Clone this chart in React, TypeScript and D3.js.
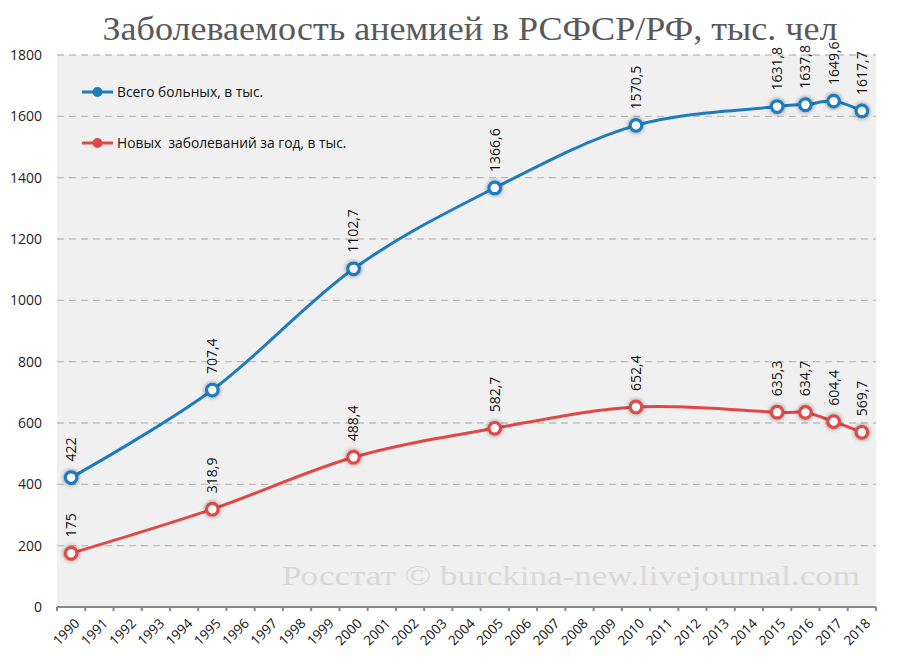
import React from "react";
import * as d3 from "d3";

const years: string[] = d3.range(1990, 2019).map(String);
const dataYears: string[] = ["1990", "1995", "2000", "2005", "2010", "2015", "2016", "2017", "2018"];
const totalValues: number[] = [422, 707.4, 1102.7, 1366.6, 1570.5, 1631.8, 1637.8, 1649.6, 1617.7];
const newValues: number[] = [175, 318.9, 488.4, 582.7, 652.4, 635.3, 634.7, 604.4, 569.7];
const yTicks: number[] = [0, 200, 400, 600, 800, 1000, 1200, 1400, 1600, 1800];
const seriesNames: string[] = ["Всего больных, в тыс.", "Новых  заболеваний за год, в тыс."];
const title = "Заболеваемость анемией в РСФСР/РФ, тыс. чел";
const watermark = "Росстат © burckina-new.livejournal.com";

const W = 900, H = 667;
const left = 57, right = 876, top = 55, bottom = 607;

const fmt = (v: number) => String(v).replace(".", ",");

export default function App() {
  const x = d3.scaleBand<string>().domain(years).range([left, right]);
  const y = d3.scaleLinear().domain([0, 1800]).range([bottom, top]);
  const cx = (yr: string) => (x(yr) as number) + x.bandwidth() / 2;
  const line = d3
    .line<[string, number]>()
    .x((d) => cx(d[0]))
    .y((d) => y(d[1]))
    .curve(d3.curveCatmullRom.alpha(0));

  const series = [
    { name: seriesNames[0], values: totalValues, color: "#1f7bc0" },
    { name: seriesNames[1], values: newValues, color: "#e04848" },
  ];
  const font = "'Open Sans', 'Liberation Sans', sans-serif";

  return (
    <svg width={W} height={H} style={{ position: "absolute", left: 0, top: 0, background: "#fff" }}>
      <defs>
        <filter id="sh" x="-80%" y="-80%" width="260%" height="260%">
          <feDropShadow dx="0" dy="0" stdDeviation="2.2" floodColor="#000" floodOpacity="0.5" />
        </filter>
      </defs>
      <rect x={left} y={top} width={right - left} height={bottom - top} fill="#f0f0f0" />
      {yTicks.map((t) =>
        t === 0 ? null : (
          <line key={t} x1={left} x2={right} y1={y(t)} y2={y(t)} stroke="#bdbdbd" strokeWidth={1.3} strokeDasharray="7,5" />
        )
      )}
      {yTicks.map((t) => (
        <text key={"l" + t} x={42} y={y(t)} dy="0.35em" textAnchor="end" fontSize={14} fontFamily={font} fill="#222">
          {t}
        </text>
      ))}
      <line x1={left} x2={right} y1={bottom} y2={bottom} stroke="#888" strokeWidth={2} />
      {years.map((yr) => (
        <line key={"t" + yr} x1={x(yr) as number} x2={x(yr) as number} y1={bottom} y2={bottom + 4} stroke="#888" strokeWidth={2} />
      ))}
      <line x1={right} x2={right} y1={bottom} y2={bottom + 4} stroke="#888" strokeWidth={2} />
      {years.map((yr) => (
        <text
          key={"x" + yr}
          transform={`translate(${cx(yr) + 6},${bottom + 14}) rotate(-45)`}
          textAnchor="end"
          dy="0.35em"
          fontSize={13.5}
          fontWeight={500}
          fontFamily={font}
          fill="#111"
        >
          {yr}
        </text>
      ))}
      <text x={470} y={40} textAnchor="middle" fontSize={33} fontFamily="'Liberation Serif', serif" fill="#595959" textLength={735} lengthAdjust="spacingAndGlyphs">
        {title}
      </text>
      <text x={282} y={585} fontSize={27} fontFamily="'Liberation Serif', 'DejaVu Serif', serif" fill="#d9d9d9" textLength={578} lengthAdjust="spacingAndGlyphs">
        {watermark}
      </text>
      {series.map((s) => {
        const pts: [string, number][] = dataYears.map((yr, i) => [yr, s.values[i]]);
        return (
          <g key={s.name}>
            <path d={line(pts) || ""} fill="none" stroke={s.color} strokeWidth={3} />
            {pts.map((p) => (
              <circle key={p[0]} cx={cx(p[0])} cy={y(p[1])} r={5.8} fill="#fff" stroke={s.color} strokeWidth={3.2} filter="url(#sh)" />
            ))}
            {pts.map((p) => (
              <text
                key={"d" + p[0]}
                transform={`translate(${cx(p[0])},${y(p[1]) - 16}) rotate(-90)`}
                dy="0.35em"
                fontSize={14}
                fontFamily={font}
                fill="#111"
              >
                {fmt(p[1])}
              </text>
            ))}
          </g>
        );
      })}
      {series.map((s, i) => {
        const ly = i === 0 ? 92 : 143;
        return (
          <g key={"leg" + i}>
            <line x1={82} x2={113} y1={ly} y2={ly} stroke={s.color} strokeWidth={3} />
            <circle cx={97.5} cy={ly} r={5} fill={s.color} />
            <text x={117} y={ly} dy="0.35em" fontSize={13.8} fontFamily={font} fill="#111" style={{ whiteSpace: "pre" }}>
              {s.name}
            </text>
          </g>
        );
      })}
    </svg>
  );
}
